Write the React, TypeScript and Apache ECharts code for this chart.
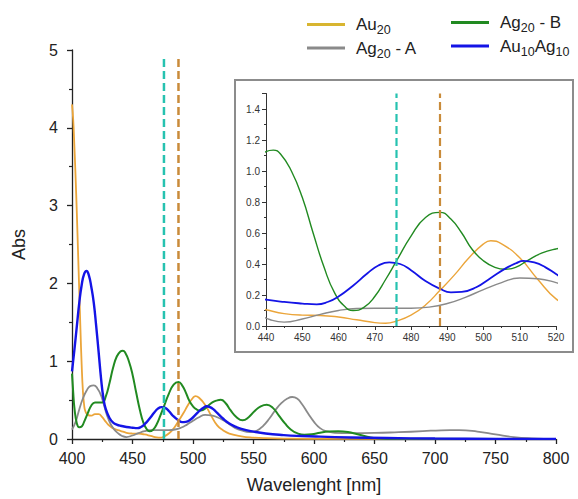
import React, { useEffect, useRef } from "react";
import * as echarts from "echarts";

// Absorption spectra, [wavelength nm, absorbance]
const au20: number[][] = [
  [400, 4.3], [401, 4.1], [402, 3.75], [403, 3.35], [404, 2.9], [405, 2.4], [406, 1.9],
  [407, 1.4], [408, 0.95], [409, 0.62], [410, 0.44], [411, 0.36], [413, 0.31], [416, 0.3],
  [419, 0.32], [422, 0.32], [425, 0.28], [428, 0.22], [431, 0.17], [435, 0.13], [440, 0.105],
  [445, 0.08], [450, 0.07], [455, 0.068], [460, 0.058], [465, 0.04], [470, 0.022], [473, 0.018],
  [476, 0.032], [480, 0.07], [484, 0.135], [488, 0.23], [492, 0.33], [496, 0.44], [500, 0.53],
  [502, 0.55], [505, 0.53], [510, 0.44], [515, 0.3], [520, 0.175], [525, 0.11], [530, 0.07],
  [540, 0.035], [550, 0.018], [560, 0.01], [580, 0.004], [600, 0.002], [700, 0], [800, 0],
];

const ag20A: number[][] = [
  [400, 0.12], [403, 0.22], [406, 0.38], [409, 0.52], [412, 0.62], [415, 0.68], [418, 0.69],
  [421, 0.65], [424, 0.56], [426, 0.46], [429, 0.3], [432, 0.19], [435, 0.12], [438, 0.075],
  [441, 0.042], [445, 0.025], [450, 0.045], [455, 0.075], [460, 0.1], [465, 0.113], [470, 0.115],
  [480, 0.115], [485, 0.122], [490, 0.145], [495, 0.185], [500, 0.235], [505, 0.28], [510, 0.31],
  [515, 0.305], [520, 0.28], [525, 0.24], [530, 0.19], [535, 0.14], [540, 0.11], [547, 0.09],
  [553, 0.11], [558, 0.17], [563, 0.26], [568, 0.37], [573, 0.46], [578, 0.52], [582, 0.54],
  [586, 0.52], [590, 0.45], [595, 0.33], [600, 0.22], [605, 0.14], [610, 0.1], [617, 0.08],
  [630, 0.075], [650, 0.078], [670, 0.088], [690, 0.1], [705, 0.112], [720, 0.113], [735, 0.095],
  [750, 0.06], [765, 0.025], [780, 0.008], [800, 0],
];

const ag20B: number[][] = [
  [400, 0.84], [401, 0.6], [402, 0.4], [404, 0.2], [406, 0.15], [408, 0.16], [410, 0.22],
  [413, 0.33], [416, 0.43], [419, 0.47], [422, 0.47], [425, 0.47], [428, 0.55], [431, 0.72],
  [434, 0.92], [437, 1.06], [440, 1.125], [442, 1.135], [444, 1.11], [447, 1.0], [450, 0.83],
  [453, 0.6], [456, 0.38], [459, 0.21], [462, 0.12], [464, 0.1], [467, 0.12], [470, 0.19],
  [473, 0.3], [476, 0.42], [480, 0.58], [484, 0.7], [488, 0.733], [491, 0.69], [494, 0.6],
  [497, 0.49], [500, 0.42], [503, 0.38], [506, 0.366], [509, 0.38], [512, 0.42], [516, 0.47],
  [520, 0.497], [523, 0.505], [527, 0.46], [531, 0.37], [536, 0.28], [541, 0.24], [546, 0.28],
  [551, 0.36], [556, 0.42], [561, 0.44], [566, 0.4], [571, 0.3], [576, 0.2], [581, 0.12],
  [586, 0.075], [592, 0.055], [598, 0.06], [605, 0.08], [612, 0.095], [620, 0.1], [628, 0.09],
  [636, 0.06], [644, 0.03], [652, 0.01], [670, 0.003], [800, 0],
];

const au10ag10: number[][] = [
  [400, 0.87], [402, 1.15], [404, 1.45], [406, 1.75], [408, 1.98], [410, 2.12], [412, 2.16],
  [414, 2.1], [416, 1.95], [418, 1.75], [420, 1.45], [422, 1.12], [424, 0.78], [426, 0.52],
  [428, 0.38], [431, 0.27], [434, 0.21], [437, 0.185], [440, 0.17], [445, 0.155], [450, 0.145],
  [454, 0.14], [457, 0.155], [460, 0.19], [464, 0.26], [468, 0.34], [471, 0.39], [474, 0.41],
  [477, 0.4], [480, 0.36], [484, 0.29], [488, 0.24], [491, 0.217], [494, 0.22], [498, 0.25],
  [502, 0.31], [506, 0.37], [509, 0.405], [511, 0.42], [514, 0.41], [517, 0.38], [520, 0.335],
  [525, 0.26], [530, 0.2], [535, 0.16], [540, 0.13], [550, 0.095], [560, 0.07], [575, 0.05],
  [590, 0.038], [605, 0.03], [630, 0.02], [660, 0.012], [700, 0.006], [750, 0.002], [800, 0],
];

// Reference wavelengths marked by dashed lines
const markerCyan = 476;
const markerOrange = 488;

const names = ["Au20", "Ag20 - A", "Ag20 - B", "Au10Ag10"];
const colors: Record<string, string> = {
  "Au20": "#eba53a",
  "Ag20 - A": "#8a8a8a",
  "Ag20 - B": "#218a21",
  "Au10Ag10": "#1414e6",
};
const widths: Record<string, number> = {
  "Au20": 1.8,
  "Ag20 - A": 1.8,
  "Ag20 - B": 2,
  "Au10Ag10": 2.4,
};
const spectra: Record<string, number[][]> = {
  "Au20": au20,
  "Ag20 - A": ag20A,
  "Ag20 - B": ag20B,
  "Au10Ag10": au10ag10,
};

const FONT = "Liberation Sans, Arial, sans-serif";

// Turn digits in a legend name into subscripts
const subscriptName = (name: string) =>
  name
    .split(/(\d+)/)
    .filter((p) => p.length > 0)
    .map((p) => (/^\d+$/.test(p) ? `{s|${p}}` : `{n|${p}}`))
    .join("");

const legendRich = {
  n: { fontSize: 17, lineHeight: 24, color: "#222", fontFamily: FONT },
  s: { fontSize: 12.5, lineHeight: 12, verticalAlign: "bottom", color: "#222", fontFamily: FONT },
};

export default function App() {
  const ref = useRef<HTMLDivElement>(null);

  useEffect(() => {
    if (!ref.current) return;
    const chart = echarts.init(ref.current, undefined, { renderer: "svg" });

    const axisCommon = {
      type: "value" as const,
      splitLine: { show: false },
      axisLine: { show: true, onZero: false, lineStyle: { color: "#222", width: 1.3 } },
    };

    const spectrumSeries: any[] = [];
    names.forEach((n) => {
      spectrumSeries.push({
        name: n,
        type: "line",
        xAxisIndex: 0,
        yAxisIndex: 0,
        data: spectra[n],
        symbol: "none",
        smooth: 0.5,
        lineStyle: { color: colors[n], width: widths[n] },
        itemStyle: { color: colors[n] },
        z: 3,
      });
      spectrumSeries.push({
        name: n,
        type: "line",
        xAxisIndex: 1,
        yAxisIndex: 1,
        data: spectra[n],
        symbol: "none",
        smooth: 0.5,
        clip: true,
        lineStyle: { color: colors[n], width: n === "Au10Ag10" ? 1.8 : 1.4 },
        itemStyle: { color: colors[n] },
        z: 3,
      });
    });

    const dashed = (x: number, top: number, color: string, xi: number, w: number) => ({
      name: `marker-${x}-${xi}`,
      type: "line",
      xAxisIndex: xi,
      yAxisIndex: xi,
      data: [
        [x, 0],
        [x, top],
      ],
      symbol: "none",
      lineStyle: { color, width: w, type: [8, 4] },
      z: 4,
    });

    const legendCommon = {
      orient: "vertical",
      padding: 0,
      itemGap: 3,
      itemWidth: 38,
      itemHeight: 3,
      icon: "rect",
      formatter: subscriptName,
      textStyle: { rich: legendRich, padding: [0, 0, 0, 6] },
    };

    chart.setOption({
      animation: false,
      backgroundColor: "#ffffff",
      textStyle: { fontFamily: FONT },
      grid: [
        { left: 72, right: 22, top: 50, bottom: 60 },
        { left: 266, right: 22, top: 93.5, bottom: 173 },
      ],
      legend: [
        {
          ...legendCommon,
          data: names.slice(0, 2).map((n) => ({ name: n, itemStyle: { color: n === "Au20" ? "#d8b530" : colors[n] } })),
          left: 307,
          top: 16,
        },
        {
          ...legendCommon,
          data: names.slice(2).map((n) => ({ name: n, itemStyle: { color: colors[n] } })),
          left: 451,
          top: 14,
        },
      ],
      xAxis: [
        {
          ...axisCommon,
          gridIndex: 0,
          min: 400,
          max: 800,
          interval: 50,
          axisTick: { show: true, length: 5, lineStyle: { color: "#222", width: 1.3 } },
          minorTick: { show: true, splitNumber: 2, length: 3, lineStyle: { color: "#222", width: 1.2 } },
          axisLabel: { fontSize: 16, color: "#222", margin: 11, fontFamily: FONT },
          name: "Wavelenght [nm]",
          nameLocation: "middle",
          nameGap: 37,
          nameTextStyle: { fontSize: 18, color: "#222", fontFamily: FONT },
        },
        {
          ...axisCommon,
          gridIndex: 1,
          min: 440,
          max: 520,
          interval: 10,
          axisLine: { show: true, onZero: false, lineStyle: { color: "#333", width: 1 } },
          axisTick: { show: true, length: 4, lineStyle: { color: "#333" } },
          minorTick: { show: true, splitNumber: 2, length: 2, lineStyle: { color: "#333" } },
          axisLabel: { fontSize: 10, color: "#333", margin: 6, fontFamily: FONT },
        },
      ],
      yAxis: [
        {
          ...axisCommon,
          gridIndex: 0,
          min: 0,
          max: 5,
          interval: 1,
          axisTick: { show: true, length: 5, lineStyle: { color: "#222", width: 1.3 } },
          minorTick: { show: true, splitNumber: 2, length: 3, lineStyle: { color: "#222", width: 1.2 } },
          axisLabel: { fontSize: 16, color: "#222", margin: 14, fontFamily: FONT },
          name: "Abs",
          nameLocation: "middle",
          nameGap: 44,
          nameTextStyle: { fontSize: 18, color: "#222", fontFamily: FONT },
        },
        {
          ...axisCommon,
          gridIndex: 1,
          min: 0,
          max: 1.5,
          interval: 0.2,
          axisLine: { show: true, onZero: false, lineStyle: { color: "#333", width: 1 } },
          axisTick: { show: true, length: 4, lineStyle: { color: "#333" } },
          minorTick: { show: true, splitNumber: 2, length: 2, lineStyle: { color: "#333" } },
          axisLabel: {
            fontSize: 10,
            color: "#333",
            margin: 6,
            fontFamily: FONT,
            showMaxLabel: false,
            formatter: (v: number) => v.toFixed(1),
          },
        },
      ],
      graphic: [
        {
          type: "rect",
          shape: { x: 235, y: 80, width: 338, height: 272 },
          style: { fill: "none", stroke: "#8c8c8c", lineWidth: 2 },
          z: 1,
        },
      ],
      series: [
        ...spectrumSeries,
        dashed(markerCyan, 4.9, "#26c2b0", 0, 2.5),
        dashed(markerOrange, 4.9, "#c98b3a", 0, 2.5),
        dashed(markerCyan, 1.5, "#26c2b0", 1, 2.2),
        dashed(markerOrange, 1.5, "#c98b3a", 1, 2.2),
      ],
    });

    return () => chart.dispose();
  }, []);

  return (
    <div
      ref={ref}
      style={{ position: "fixed", left: 0, top: 0, width: 578, height: 499, background: "#fff" }}
    />
  );
}
